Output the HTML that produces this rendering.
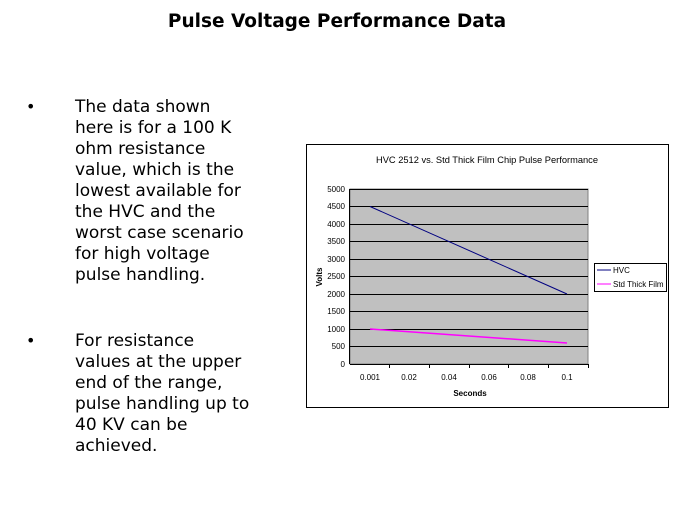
<!DOCTYPE html>
<html><head><meta charset="utf-8"><style>
body{margin:0;width:674px;height:506px;background:#fff;position:relative;font-family:"DejaVu Sans","Liberation Sans",sans-serif;overflow:hidden}
.t{position:absolute;left:0;width:674px;top:11px;text-align:center;font-weight:bold;font-size:18.5px}
.b{position:absolute;left:75px;font-size:17px;line-height:21px;width:220px;white-space:nowrap}
.d{position:absolute;left:26px;font-size:16px}
</style></head><body>
<div class="t">Pulse Voltage Performance Data</div>
<div class="d" style="top:97px">•</div>
<div class="b" style="top:97px">The data shown<br>here is for a 100 K<br>ohm resistance<br>value, which is the<br>lowest available for<br>the HVC and the<br>worst case scenario<br>for high voltage<br>pulse handling.</div>
<div class="d" style="top:331px">•</div>
<div class="b" style="top:331px">For resistance<br>values at the upper<br>end of the range,<br>pulse handling up to<br>40 KV can be<br>achieved.</div>
<svg style="position:absolute;left:0;top:0" width="674" height="506" font-family="Liberation Sans,Arial,sans-serif">
<rect x="306.5" y="144.5" width="362" height="263" fill="#fff" stroke="#000"/>
<text x="487" y="163" font-size="9.3" text-anchor="middle">HVC 2512 vs. Std Thick Film Chip Pulse Performance</text>
<rect x="350" y="189" width="238" height="175" fill="#c0c0c0" stroke="#808080"/>
<g stroke="#000" stroke-width="1">
<line x1="350" x2="588" y1="189.5" y2="189.5"/><line x1="350" x2="588" y1="206.5" y2="206.5"/>
<line x1="350" x2="588" y1="224.5" y2="224.5"/><line x1="350" x2="588" y1="241.5" y2="241.5"/>
<line x1="350" x2="588" y1="259.5" y2="259.5"/><line x1="350" x2="588" y1="276.5" y2="276.5"/>
<line x1="350" x2="588" y1="294.5" y2="294.5"/><line x1="350" x2="588" y1="311.5" y2="311.5"/>
<line x1="350" x2="588" y1="329.5" y2="329.5"/><line x1="350" x2="588" y1="346.5" y2="346.5"/>
<line x1="350" x2="588" y1="364.5" y2="364.5"/>
<line x1="349.5" x2="349.5" y1="189" y2="364"/>
<line x1="389.5" x2="389.5" y1="364" y2="368"/><line x1="429.5" x2="429.5" y1="364" y2="368"/>
<line x1="469.5" x2="469.5" y1="364" y2="368"/><line x1="508.5" x2="508.5" y1="364" y2="368"/>
<line x1="548.5" x2="548.5" y1="364" y2="368"/><line x1="588.5" x2="588.5" y1="364" y2="368"/>
</g>
<line x1="370" y1="206.5" x2="567" y2="294" stroke="#000080" stroke-width="1"/>
<line x1="370" y1="329" x2="567" y2="343" stroke="#ff00ff" stroke-width="1.5"/>
<g font-size="8" text-anchor="end">
<text x="345" y="192">5000</text><text x="345" y="209">4500</text><text x="345" y="227">4000</text>
<text x="345" y="244">3500</text><text x="345" y="262">3000</text><text x="345" y="279">2500</text>
<text x="345" y="297">2000</text><text x="345" y="314">1500</text><text x="345" y="332">1000</text>
<text x="345" y="349">500</text><text x="345" y="367">0</text>
</g>
<g font-size="8" text-anchor="middle">
<text x="370" y="380">0.001</text><text x="409" y="380">0.02</text><text x="449" y="380">0.04</text>
<text x="489" y="380">0.06</text><text x="528" y="380">0.08</text><text x="567" y="380">0.1</text>
<text x="470" y="396" font-weight="bold">Seconds</text>
<text transform="translate(322,277) rotate(-90)" font-weight="bold">Volts</text>
</g>
<rect x="594.5" y="263.5" width="72" height="28" fill="#fff" stroke="#000"/>
<line x1="597" x2="611" y1="270" y2="270" stroke="#000080"/>
<line x1="597" x2="611" y1="284" y2="284" stroke="#ff00ff"/>
<text x="613" y="273" font-size="8">HVC</text>
<text x="613" y="287" font-size="8">Std Thick Film</text>
</svg>
</body></html>
